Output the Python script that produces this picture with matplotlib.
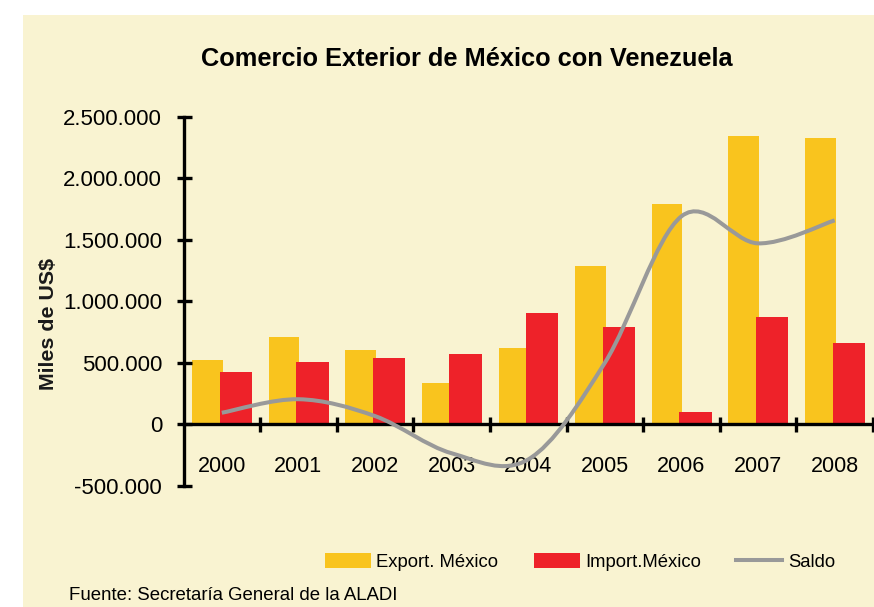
import matplotlib
matplotlib.use('Agg')
import matplotlib.pyplot as plt
from matplotlib import font_manager
from matplotlib.path import Path
from matplotlib.patches import PathPatch, Rectangle, Patch
from matplotlib.lines import Line2D
from matplotlib.ticker import FixedLocator, FuncFormatter, NullFormatter

# ---------------- data ----------------
years = ['2000', '2001', '2002', '2003', '2004', '2005', '2006', '2007', '2008']
export_mx = [523000, 711000, 605000, 335000, 618000, 1291000, 1792000, 2340000, 2323000]
import_mx = [428000, 506000, 537000, 569000, 902000, 790000, 101000, 869000, 665000]
saldo = [95000, 205000, 68000, -234000, -284000, 501000, 1691000, 1471000, 1658000]
y_ticks = [-500000, 0, 500000, 1000000, 1500000, 2000000, 2500000]

title = 'Comercio Exterior de México con Venezuela'
ylabel = 'Miles de US$'
source = 'Fuente: Secretaría General de la ALADI'
legend_labels = ['Export. México', 'Import.México', 'Saldo']

# ---------------- style ----------------
BG = '#F9F3D1'
YELLOW = '#F9C41E'
RED = '#EE2229'
GRAY = '#999999'

names = {f.name for f in font_manager.fontManager.ttflist}
REG = 'Liberation Sans' if 'Liberation Sans' in names else 'DejaVu Sans'
NARROW = 'Liberation Sans Narrow' if 'Liberation Sans Narrow' in names else REG

W, H = 874, 607
fig = plt.figure(figsize=(W / 100, H / 100), dpi=100, facecolor='white')
renderer = fig.canvas.get_renderer()


def fit_size(text, family, weight, target_px, base=20.0):
    t = fig.text(0, 0, text, fontsize=base, family=family, weight=weight)
    w = t.get_window_extent(renderer=renderer).width
    t.remove()
    return base * target_px / w


fs_title = fit_size(title, REG, 'bold', 533)
fs_ylabel = fit_size(ylabel, REG, 'bold', 132)
fs_ytick = fit_size('2.500.000', REG, 'normal', 99)
fs_xtick = fit_size('2000', REG, 'normal', 48)
fs_leg = fit_size(legend_labels[0], NARROW, 'normal', 122)
fs_src = fit_size(source, NARROW, 'normal', 328)

# cream background panel
fig.patches.append(Rectangle((23 / W, 0), 1 - 23 / W, 1 - 15 / H,
                             transform=fig.transFigure, facecolor=BG,
                             edgecolor='none', zorder=-10))

# axes: y axis at x=183.5, 2.5M at y=116.7, -500k at y=486
left = 183.5 / W
right = 873 / W
top = 1 - 116.7 / H
bottom = 1 - 486 / H
ax = fig.add_axes([left, bottom, right - left, top - bottom])
ax.set_facecolor('none')

x = list(range(len(years)))
ax.bar([i - 0.187 for i in x], export_mx, width=0.40, color=YELLOW, zorder=1,
       linewidth=0)
ax.bar([i + 0.183 for i in x], import_mx, width=0.423, color=RED, zorder=1.1,
       linewidth=0)

# smoothed line (Excel-like smoothing with cubic Bezier segments)
pts = list(zip(x, saldo))
n = len(pts)
verts = [pts[0]]
codes = [Path.MOVETO]
for i in range(n - 1):
    p0 = pts[i - 1] if i > 0 else pts[i]
    p1 = pts[i]
    p2 = pts[i + 1]
    p3 = pts[i + 2] if i + 2 < n else pts[i + 1]
    c1 = (p1[0] + (p2[0] - p0[0]) / 6, p1[1] + (p2[1] - p0[1]) / 6)
    c2 = (p2[0] - (p3[0] - p1[0]) / 6, p2[1] - (p3[1] - p1[1]) / 6)
    verts += [c1, c2, p2]
    codes += [Path.CURVE4] * 3
ax.add_patch(PathPatch(Path(verts, codes), fill=False, edgecolor=GRAY,
                       linewidth=2.9, zorder=3, capstyle='butt'))

ax.set_xlim(-0.5, len(years) - 0.5)
ax.set_ylim(y_ticks[0], y_ticks[-1])

for s in ['top', 'right']:
    ax.spines[s].set_visible(False)
ax.spines['bottom'].set_position(('data', 0))
for s in ['left', 'bottom']:
    ax.spines[s].set_linewidth(2.4)
    ax.spines[s].set_color('black')
    ax.spines[s].set_zorder(2.5)

ax.yaxis.set_major_locator(FixedLocator(y_ticks))
ax.yaxis.set_major_formatter(FuncFormatter(
    lambda v, p: format(int(round(v)), ',').replace(',', '.')))
ax.tick_params(axis='y', direction='inout', length=10.8, width=2.4, pad=10,
               labelsize=fs_ytick, colors='black')
for lab in ax.get_yticklabels():
    lab.set_family(REG)

ax.xaxis.set_major_locator(FixedLocator([i + 0.5 for i in x]))
ax.xaxis.set_major_formatter(NullFormatter())
ax.xaxis.set_minor_locator(FixedLocator(x))
ax.xaxis.set_minor_formatter(FuncFormatter(lambda v, p: years[int(round(v))]))
ax.tick_params(axis='x', which='major', direction='inout', length=10.8,
               width=2.4)
ax.tick_params(axis='x', which='minor', length=0, pad=22.5,
               labelsize=fs_xtick, colors='black')
for lab in ax.xaxis.get_minorticklabels():
    lab.set_family(REG)

# texts
fig.text(466.8 / W, 1 - 66 / H, title, ha='center', va='baseline',
         fontsize=fs_title, weight='bold', family=REG)
fig.text(48 / W, 1 - 324 / H, ylabel, ha='center', va='center', rotation=90,
         fontsize=fs_ylabel, weight='bold', family=REG, color='#1a1a1a')
fig.text(68.6 / W, 1 - 600 / H, source, ha='left', va='baseline',
         fontsize=fs_src, family=NARROW)

# legend
fpx = fs_leg * 100 / 72
handles = [Patch(facecolor=YELLOW, edgecolor='none'),
           Patch(facecolor=RED, edgecolor='none'),
           Line2D([], [], color=GRAY, linewidth=2.9)]
fig.legend(handles, legend_labels, ncol=3, loc='center',
           bbox_to_anchor=(580 / W, 1 - 562 / H), frameon=False,
           prop={'family': NARROW, 'size': fs_leg},
           handlelength=46 / fpx, handleheight=16 / fpx,
           handletextpad=6 / fpx, columnspacing=35 / fpx,
           borderpad=0, borderaxespad=0)

fig.savefig('out.png', dpi=100, facecolor='white')
